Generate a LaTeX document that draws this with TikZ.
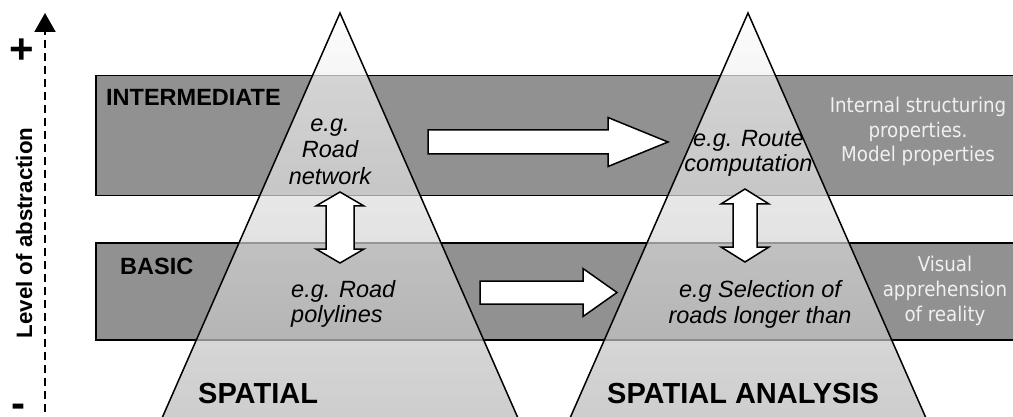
\documentclass[tikz,border=0pt]{standalone}
\usepackage{fontspec}
\setmainfont{Liberation Sans}
\newfontfamily\notefont{DejaVu Sans Condensed}
\usetikzlibrary{calc,arrows.meta}

\definecolor{bandgray}{gray}{0.57}
\definecolor{tritop}{gray}{0.988}
\definecolor{tribot}{gray}{0.70}
\definecolor{notetext}{gray}{0.94}

\tikzset{
  band/.style={fill=bandgray, draw=black, line width=1.5pt},
  pyramid/.style={top color=tritop, bottom color=tribot, fill opacity=0.7},
  pyramidline/.style={draw=black, line width=1.5pt},
  blockarrow/.style={fill=white, draw=black, line width=1.5pt},
  levellabel/.style={anchor=base west, inner sep=0, font=\bfseries\fontsize{23.5}{28}\selectfont},
  titlelabel/.style={anchor=base west, inner sep=0, font=\bfseries\fontsize{29}{34}\selectfont},
  example/.style={inner sep=0, align=center, font=\itshape\fontsize{23.5}{25}\selectfont},
  note/.style={inner sep=0, align=center, text=notetext, font=\notefont\fontsize{20.3}{24.75}\selectfont},
  axislabel/.style={inner sep=0, font=\bfseries\fontsize{22.3}{26}\selectfont},
}

% horizontal block arrow: tail, tip, shaft half-height, head half-height, head length
\newcommand\blockarrowH[5]{%
  \draw[blockarrow] ($(#1)+(0,-#3)$) -- ($(#2)+(-#5,-#3)$) -- ($(#2)+(-#5,-#4)$) -- (#2)
    -- ($(#2)+(-#5,#4)$) -- ($(#2)+(-#5,#3)$) -- ($(#1)+(0,#3)$) -- cycle;}
% vertical double block arrow: upper tip, lower tip, shaft half-width, head half-width, head length
\newcommand\blockarrowV[5]{%
  \draw[blockarrow] (#1) -- ($(#1)+(#4,#5)$) -- ($(#1)+(#3,#5)$) -- ($(#2)+(#3,-#5)$)
    -- ($(#2)+(#4,-#5)$) -- (#2) -- ($(#2)+(-#4,-#5)$) -- ($(#2)+(-#3,-#5)$)
    -- ($(#1)+(-#3,#5)$) -- ($(#1)+(-#4,#5)$) -- cycle;}

\begin{document}
\begin{tikzpicture}[x=1pt, y=-1pt]
  \useasboundingbox (0,0) rectangle (1013,417);
  \clip (0,0) rectangle (1013,417);

  % abstraction levels
  \draw[band] (96,75.5) rectangle (1030,195.5);
  \draw[band] (96,243) rectangle (1030,340);

  % the two pyramids
  \shade[pyramid] (340,13) -- (148,450) -- (532,450) -- cycle;
  \shade[pyramid] (748,13) -- (556,450) -- (940,450) -- cycle;
  \draw[pyramidline] (340,13) -- (148,450) -- (532,450) -- cycle;
  \draw[pyramidline] (748,13) -- (556,450) -- (940,450) -- cycle;

  % level names
  \node[levellabel] (intlbl) at (106,106) {INTERMEDIATE};
  \node[levellabel] (baslbl) at (120,274) {BASIC};

  % pyramid names
  \node[titlelabel] (spatial) at (198,403) {SPATIAL};
  \node[titlelabel] (analysis) at (607,403) {SPATIAL ANALYSIS};

  % examples (base anchor sits on the last line)
  \node[example, font=\itshape\fontsize{23.5}{26.5}\selectfont, anchor=base] (exnet) at (330,184.5) {e.g.\\Road\\network};
  \node[example, align=left, anchor=base west] (expoly) at (291,322) {e.g. Road\\polylines};
  \node[example, anchor=base] (exroute) at (748.5,172) {e.g. Route\\computation};
  \node[example, anchor=base] (exsel) at (760,323) {e.g Selection of\\roads longer than};

  % level descriptions
  \node[note, anchor=base] (noteint) at (918,162) {Internal structuring\\properties.\\Model properties};
  \node[note, anchor=base] (notebas) at (945,321) {Visual\\apprehension\\of reality};

  % block arrows
  \coordinate (upTail) at (428,142);
  \coordinate (upTip) at (668,142);
  \coordinate (loTail) at (480,292.5);
  \coordinate (loTip) at (617,292.5);
  \coordinate (lvTop) at (340,192);
  \coordinate (lvBot) at (340,263);
  \coordinate (rvTop) at (745,189);
  \coordinate (rvBot) at (745,262);
  \blockarrowH{upTail}{upTip}{12}{24.5}{60}
  \blockarrowH{loTail}{loTip}{11.5}{24}{34}
  \blockarrowV{lvTop}{lvBot}{14}{24}{14}
  \blockarrowV{rvTop}{rvBot}{12}{24}{15}

  % abstraction axis
  \coordinate (axbot) at (45,425);
  \coordinate (axtop) at (45,13);
  \draw[line width=2pt, dash pattern=on 8pt off 5pt, -{Triangle[length=19pt,width=21pt]}] (axbot) -- (axtop);
  \node[axislabel, rotate=90, anchor=base] (axlbl) at (32,233) {Level of abstraction};
  \node[inner sep=0, font=\bfseries\fontsize{42}{42}\selectfont] (plus) at (22,51) {+};
  \node[inner sep=0, font=\bfseries\fontsize{42}{42}\selectfont] (minus) at (18.5,410.5) {-};
\end{tikzpicture}
\end{document}
